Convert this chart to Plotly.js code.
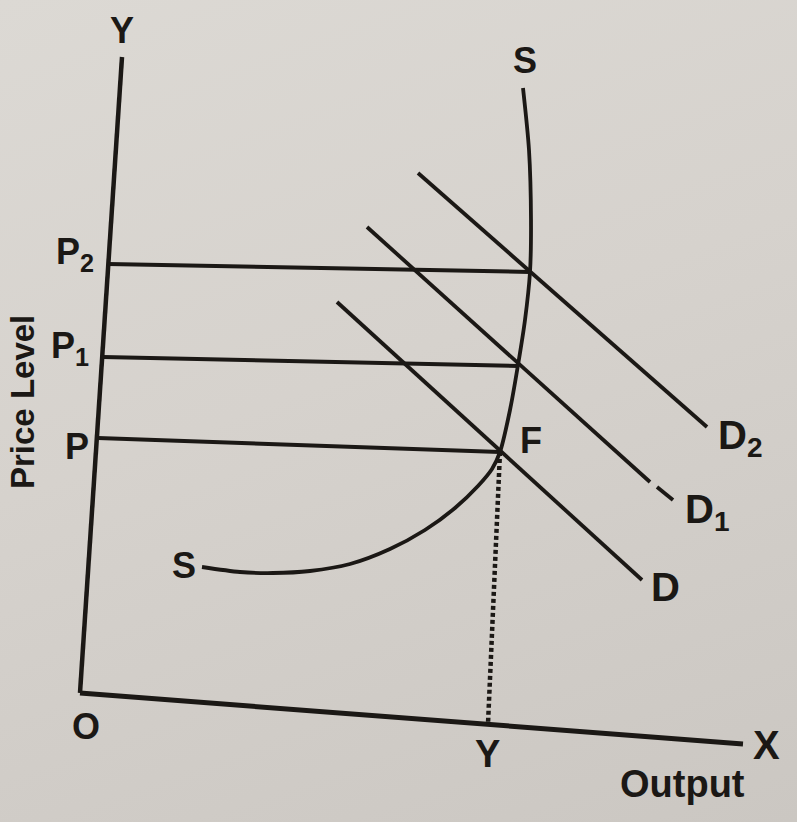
<!DOCTYPE html>
<html>
<head>
<meta charset="utf-8">
<script src="https://cdn.plot.ly/plotly-3.0.1.min.js"></script>
<style>
  html, body { margin: 0; padding: 0; }
  body {
    width: 797px; height: 822px; overflow: hidden;
    background: linear-gradient(160deg, #dcd9d4 0%, #d6d2cd 45%, #cbc7c2 100%);
  }
  #chart { width: 797px; height: 822px; }
</style>
</head>
<body>
<div id="chart"></div>
<script>
// Demand-pull inflation diagram: aggregate supply SS against rising demand D -> D1 -> D2.
// Points are given in the drawing's own frame (x to the right, y downward).

// Axes (origin O, vertical price axis, horizontal output axis)
const priceAxisX = [80, 122];
const priceAxisY = [693, 57];
const outputAxisX = [80, 743];
const outputAxisY = [693, 744];

// Aggregate supply curve S-S: flat at first, turning vertical at full employment
const supplyX = [202, 240, 273, 310, 350, 390, 425, 455, 478, 492, 500, 510, 518, 525, 530, 531, 529, 523];
const supplyY = [567, 572, 573, 571, 564, 549, 530, 508, 486, 469, 452, 410, 365, 320, 272, 220, 150, 88];

// Demand curves
const demandX = [337, 642];
const demandY = [302, 580];
const demand1X = [367, 650];
const demand1Y = [227, 482];
const demand1TailX = [657, 673];
const demand1TailY = [487, 500];
const demand2X = [418, 707];
const demand2Y = [173, 427];

// Price levels P, P1, P2 read across to the supply curve
const priceLineP = { x: [98, 500], y: [438, 452] };
const priceLineP1 = { x: [103, 518], y: [357, 366] };
const priceLineP2 = { x: [108, 530], y: [264, 272] };

// Full-employment output Y below point F
const outputDropX = [500, 488];
const outputDropY = [452, 724];

const ink = '#1b1815';

function seg(x, y, width, dash) {
  return {
    type: 'scatter', mode: 'lines', x: x, y: y,
    line: { color: ink, width: width, dash: dash || 'solid', shape: 'spline', smoothing: 0.8 },
    hoverinfo: 'skip', showlegend: false
  };
}

const traces = [
  seg(priceAxisX, priceAxisY, 4.5),
  seg(outputAxisX, outputAxisY, 5),
  seg(priceLineP2.x, priceLineP2.y, 4),
  seg(priceLineP1.x, priceLineP1.y, 4),
  seg(priceLineP.x, priceLineP.y, 4),
  seg(demandX, demandY, 3.8),
  seg(demand1X, demand1Y, 3.8),
  seg(demand1TailX, demand1TailY, 3.8),
  seg(demand2X, demand2Y, 3.8),
  seg(supplyX, supplyY, 3.8),
  seg(outputDropX, outputDropY, 4.5, '4px,3px')
];

const font = 'Liberation Sans, Arial, sans-serif';
function label(text, x, y, size, extra) {
  return Object.assign({
    text: text, x: x, y: y, xref: 'x', yref: 'y', showarrow: false,
    xanchor: 'center', yanchor: 'middle',
    font: { family: font, size: size, color: ink, weight: 'bold' }
  }, extra || {});
}

const annotations = [
  label('Y', 122, 30, 36),
  label('S', 525, 60, 36),
  label('P<sub>2</sub>', 96, 254, 36, { xanchor: 'right' }),
  label('P<sub>1</sub>', 91, 348, 36, { xanchor: 'right' }),
  label('P', 77, 446, 36),
  label('S', 184, 565, 36),
  label('F', 531, 440, 36),
  label('D<sub>2</sub>', 716, 438, 40, { xanchor: 'left' }),
  label('D<sub>1</sub>', 683, 512, 40, { xanchor: 'left' }),
  label('D', 665, 587, 40),
  label('O', 86, 726, 36),
  label('Y', 487, 754, 38),
  label('X', 766, 745, 40),
  label('Output', 682, 784, 38),
  label('Price Level', 22, 402, 33, { textangle: -90 })
];

const layout = {
  width: 797, height: 822,
  margin: { l: 0, r: 0, t: 0, b: 0 },
  paper_bgcolor: 'rgba(0,0,0,0)',
  plot_bgcolor: 'rgba(0,0,0,0)',
  xaxis: { range: [0, 797], visible: false, fixedrange: true },
  yaxis: { range: [822, 0], visible: false, fixedrange: true },
  annotations: annotations,
  showlegend: false
};

Plotly.newPlot('chart', traces, layout, { displayModeBar: false, staticPlot: true });
</script>
</body>
</html>
